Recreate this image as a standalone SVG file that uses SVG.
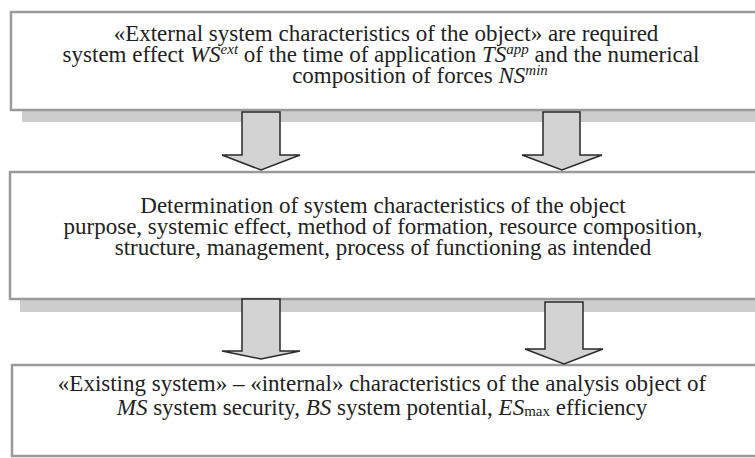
<svg xmlns="http://www.w3.org/2000/svg" width="755" height="458" viewBox="0 0 755 458">
<style>
.shadow{fill:#cdcdcd}
.box{fill:#fff;stroke:#9a9a9a;stroke-width:2.5}
.arrow{fill:#d3d3d3;stroke:#2a2a2a;stroke-width:1.5;stroke-linejoin:miter}
.t{font-size:23px;fill:#222;text-anchor:middle}
.i{font-style:italic}
.sup{font-style:italic;font-size:15px}
.sub{font-size:15px}
</style>
<rect width="755" height="458" fill="#fff"/>
<g font-family="Liberation Serif, serif">
<g id="node1">
<rect class="shadow" x="22" y="24" width="740" height="98"/>
<rect class="box" x="11" y="12" width="750" height="98"/>
<text class="t" x="386" y="41">«External system characteristics of the object» are required</text>
<text class="t" x="381" y="62">system effect <tspan class="i">WS</tspan><tspan class="sup" dy="-8">ext</tspan><tspan dy="8"> of the time of application </tspan><tspan class="i">TS</tspan><tspan class="sup" dy="-8">app</tspan><tspan dy="8"> and the numerical</tspan></text>
<text class="t" x="420" y="83">composition of forces <tspan class="i">NS</tspan><tspan class="sup" dy="-8">min</tspan></text>
</g>
<g id="node2">
<rect class="shadow" x="20" y="184" width="742" height="128"/>
<rect class="box" x="10" y="172" width="751" height="127"/>
<text class="t" x="383" y="213">Determination of system characteristics of the object</text>
<text class="t" x="383" y="234">purpose, systemic effect, method of formation, resource composition,</text>
<text class="t" x="383" y="255">structure, management, process of functioning as intended</text>
</g>
<g id="node3">
<rect class="box" x="12" y="365" width="749" height="91"/>
<text class="t" x="382" y="391">«Existing system» – «internal» characteristics of the analysis object of</text>
<text class="t" x="382" y="415"><tspan class="i">MS</tspan> system security, <tspan class="i">BS</tspan> system potential, <tspan class="i">ES</tspan><tspan class="sub" dy="1">max</tspan><tspan dy="-1"> efficiency</tspan></text>
</g>
</g>
<g id="connectors">
<polygon class="arrow" points="242,112 280,112 280,155 300,155 261,170 222,155 242,155"/>
<polygon class="arrow" points="543,112 580,112 580,155 602,155 562,170 522,155 543,155"/>
<polygon class="arrow" points="242,299 280,299 280,351 300,351 261,359 222,351 242,351"/>
<polygon class="arrow" points="545,302 583,302 583,349 603,349 564,364 525,349 545,349"/>
</g>
</svg>
